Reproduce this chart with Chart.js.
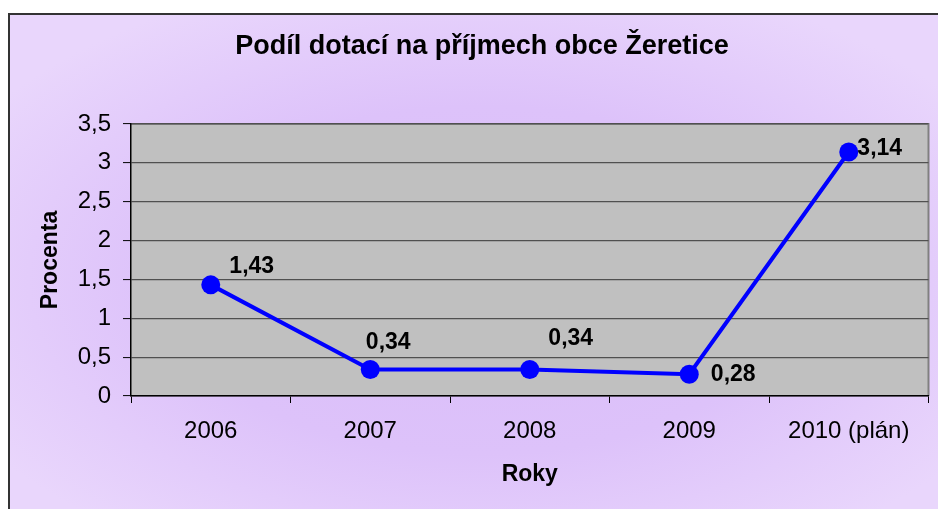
<!DOCTYPE html>
<html lang="cs">
<head>
<meta charset="utf-8">
<title>Podíl dotací na příjmech obce Žeretice</title>
<script src="https://cdn.jsdelivr.net/npm/chart.js@4.4.1/dist/chart.umd.min.js"></script>
<style>
    html, body { margin: 0; padding: 0; background: #fff; overflow: hidden; }
    #frame {
        position: absolute; left: 8px; top: 13px; width: 940px; height: 510px;
        border: 2px solid #333;
        background: radial-gradient(ellipse 62% 62% at 50% 52%, #dabdf9 0%, #ddc2fa 55%, #e9d6fc 100%);
    }
    #chart { position: absolute; left: 0; top: 0; }
</style>
</head>
<body>
<div id="frame"></div>
<canvas id="chart" width="938" height="509"></canvas>
<script>
// ---- DATA ----
const titulek = 'Podíl dotací na příjmech obce Žeretice';
const roky = ['2006', '2007', '2008', '2009', '2010 (plán)'];
const procenta = [1.43, 0.34, 0.34, 0.28, 3.14];
const yTicks = [0, 0.5, 1, 1.5, 2, 2.5, 3, 3.5];

// posun popisku od bodu (px)
const labelOffsets = [[41, -18], [18, -27], [41, -31], [44, 0], [31, -3]];

const fmt = v => String(v).replace('.', ',');
const FONT = '"Liberation Sans", Arial, sans-serif';

// pozadi oblasti grafu + nadpis
const plotBg = {
    id: 'plotBg',
    beforeDraw(chart) {
        const { ctx, chartArea: a } = chart;
        ctx.save();
        ctx.fillStyle = '#c0c0c0';
        ctx.fillRect(a.left, a.top, a.right - a.left, a.bottom - a.top);
        ctx.strokeStyle = '#808080';
        ctx.lineWidth = 2;
        ctx.beginPath();
        ctx.moveTo(a.left, a.top);
        ctx.lineTo(a.right, a.top);
        ctx.lineTo(a.right, a.bottom);
        ctx.stroke();

        ctx.font = 'bold 27px ' + FONT;
        ctx.fillStyle = '#000';
        ctx.textAlign = 'center';
        ctx.textBaseline = 'middle';
        ctx.fillText(titulek, 482, 47);
        ctx.restore();
    }
};

// popisky hodnot
const valueLabels = {
    id: 'valueLabels',
    afterDatasetsDraw(chart) {
        const { ctx } = chart;
        const meta = chart.getDatasetMeta(0);
        ctx.save();
        ctx.font = 'bold 23px ' + FONT;
        ctx.fillStyle = '#000';
        ctx.textAlign = 'center';
        ctx.textBaseline = 'middle';
        meta.data.forEach((pt, i) => {
            const off = labelOffsets[i];
            ctx.fillText(fmt(procenta[i]), pt.x + off[0], pt.y + off[1]);
        });
        ctx.restore();
    }
};

Chart.defaults.font.family = FONT;
Chart.defaults.color = '#000';

new Chart(document.getElementById('chart'), {
    type: 'line',
    data: {
        labels: roky,
        datasets: [{
            data: procenta,
            borderColor: '#0000ff',
            backgroundColor: '#0000ff',
            borderWidth: 4,
            pointRadius: 9.5,
            pointHoverRadius: 9.5,
            pointBorderWidth: 0,
            pointBackgroundColor: '#0000ff',
            tension: 0,
            clip: false
        }]
    },
    options: {
        responsive: false,
        devicePixelRatio: 1,
        animation: false,
        events: [],
        layout: { padding: { left: 0, right: 4, top: 124, bottom: 0 } },
        plugins: {
            legend: { display: false },
            tooltip: { enabled: false },
            title: { display: false }
        },
        scales: {
            x: {
                type: 'category',
                offset: true,
                afterFit(scale) { scale.height = 113; },
                grid: {
                    offset: true,
                    drawOnChartArea: false,
                    drawTicks: true,
                    tickLength: 7,
                    tickColor: '#000',
                    tickWidth: 1
                },
                border: { color: '#000', width: 1.5 },
                ticks: { font: { size: 24 }, color: '#000', padding: 14, maxRotation: 0, autoSkip: false },
                title: {
                    display: true,
                    text: 'Roky',
                    color: '#000',
                    font: { size: 23, weight: 'bold' },
                    padding: { top: 0, bottom: 21 }
                }
            },
            y: {
                min: 0,
                max: 3.5,
                afterFit(scale) { scale.width = 131; },
                afterBuildTicks(scale) { scale.ticks = yTicks.map(v => ({ value: v })); },
                grid: {
                    color: '#505050',
                    lineWidth: 1.2,
                    tickLength: 8,
                    tickColor: '#000',
                    tickWidth: 1
                },
                border: { color: '#000', width: 1.5 },
                ticks: { font: { size: 24 }, color: '#000', padding: 12, callback: v => fmt(v) },
                title: {
                    display: true,
                    text: 'Procenta',
                    color: '#000',
                    font: { size: 23, weight: 'bold' },
                    padding: { top: 37, bottom: 0 }
                }
            }
        }
    },
    plugins: [plotBg, valueLabels]
});
</script>
</body>
</html>
